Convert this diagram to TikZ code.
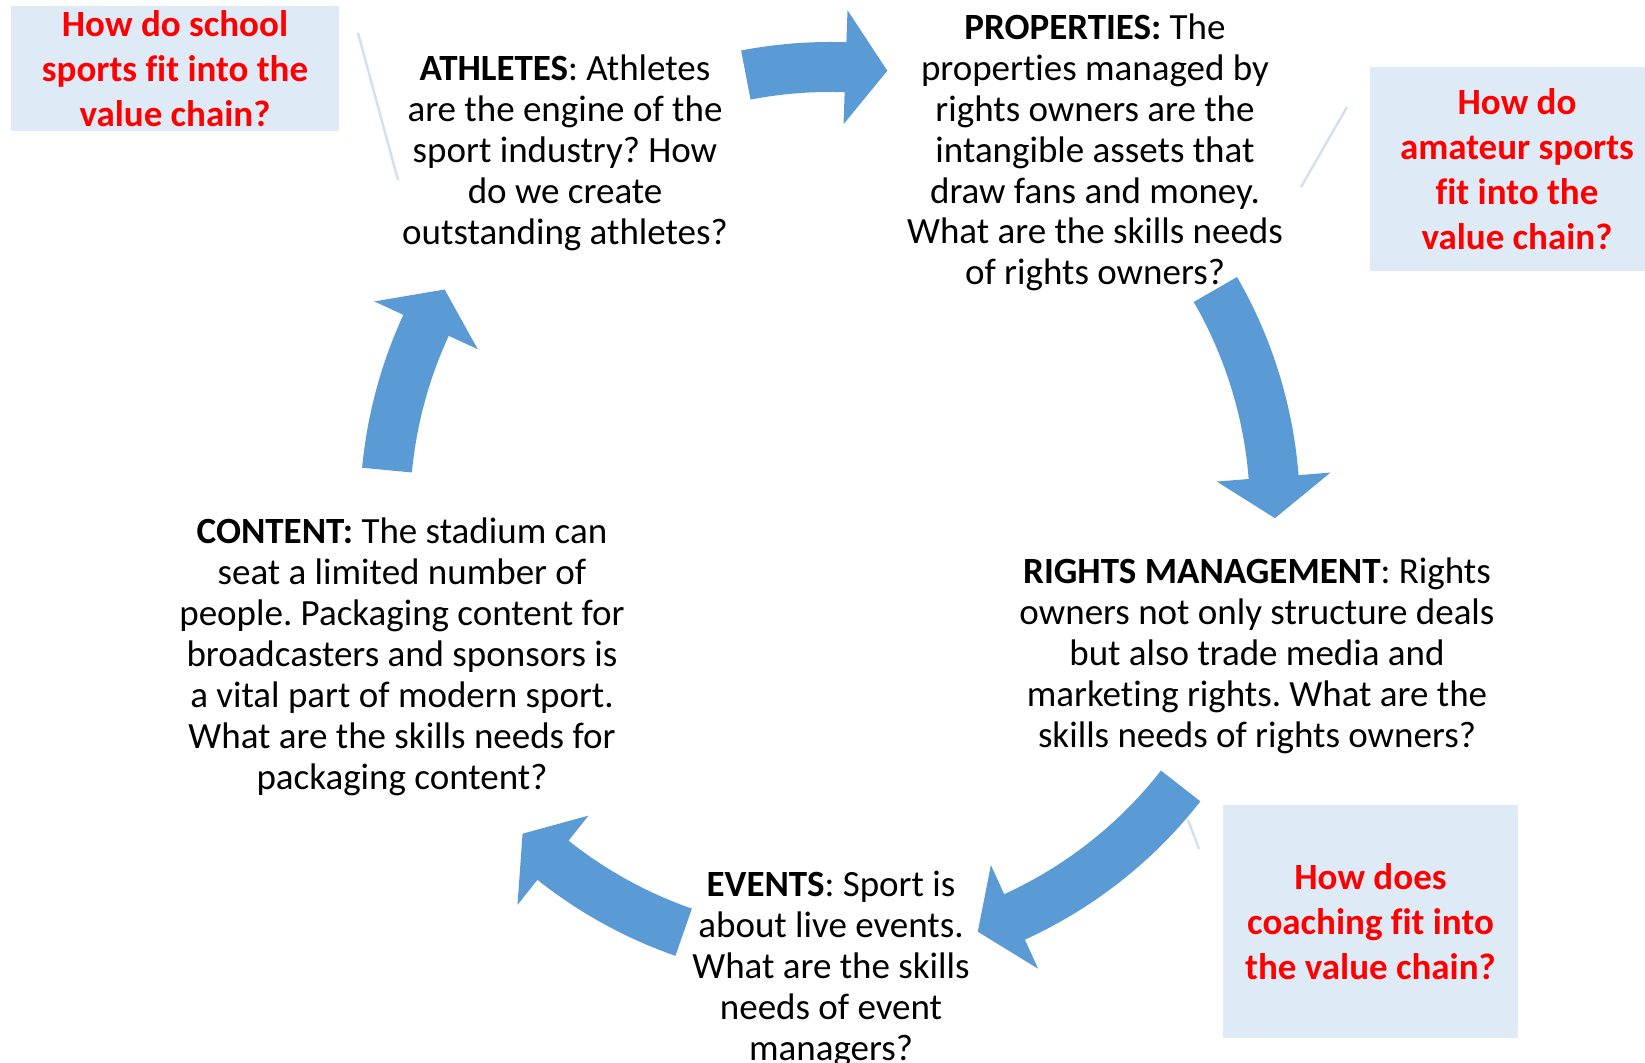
\documentclass[tikz,border=0pt]{standalone}
\usepackage{fontspec}
\setmainfont{Carlito}[Ligatures=NoCommon]
\frenchspacing

\definecolor{cycblue}{RGB}{91,155,213}
\definecolor{notefill}{RGB}{222,235,247}
\definecolor{noteline}{RGB}{208,224,241}

% curved block arrow on the cycle: tail angle, head base angle, tip angle
\newcommand{\cycarrow}[3]{%
  \fill[cycblue] (#1:470) arc[start angle=#1, end angle=#2, radius=470]
    -- (#2:502) -- (#3:445) -- (#2:388) -- (#2:420)
    arc[start angle=#2, end angle=#1, radius=420] -- cycle;}

\begin{document}
\begin{tikzpicture}[
  x=0.5pt, y=0.5pt,
  body/.style={align=center, inner sep=0pt, font=\fontsize{18.5}{20.45}\selectfont},
  note/.style={fill=notefill, align=center, inner sep=0pt, text=red,
               font=\bfseries\fontsize{18.5}{22.4}\selectfont},
  pointer/.style={draw=noteline, line width=1.2pt}
]
\useasboundingbox (-830,-551) rectangle (815,512);

% callout pointers
\coordinate (p1a) at (-472,479);
\coordinate (p1b) at (-432,332);
\coordinate (p2a) at (517,405);
\coordinate (p2b) at (471,325);
\coordinate (p3a) at (358,-308);
\coordinate (p3b) at (369,-337);
\draw[pointer] (p1a) -- (p1b);
\draw[pointer] (p2a) -- (p2b);
\draw[pointer] (p3a) -- (p3b);

% the cycle
\cycarrow{100.9}{88}{82.6}
\cycarrow{30}{4.5}{-0.8}
\cycarrow{-38}{-65.5}{-70.6}
\cycarrow{-109.2}{-128.5}{-133.7}
\cycarrow{174.6}{155.2}{150}

\node[body] (athletes) at (-265,359) {\textbf{ATHLETES}: Athletes\\are the engine of the\\sport industry? How\\do we create\\outstanding athletes?};
\node[body] (properties) at (265,359.5) {\textbf{PROPERTIES:} The\\properties managed by\\rights owners are the\\intangible assets that\\draw fans and money.\\What are the skills needs\\of rights owners?};
\node[body] (rights) at (427,-144) {\textbf{RIGHTS MANAGEMENT}: Rights\\owners not only structure deals\\but also trade media and\\marketing rights. What are the\\skills needs of rights owners?};
\node[body] (events) at (1,-457) {\textbf{EVENTS}: Sport is\\about live events.\\What are the skills\\needs of event\\managers?};
\node[body] (content) at (-428,-145) {\textbf{CONTENT:} The stadium can\\seat a limited number of\\people. Packaging content for\\broadcasters and sponsors is\\a vital part of modern sport.\\What are the skills needs for\\packaging content?};

% questions
\node[note, minimum width=164pt, minimum height=62.5pt] (school) at (-655,443.5) {How do school\\sports fit into the\\value chain?};
\node[note, minimum width=147.5pt, minimum height=102pt] (amateur) at (687,343) {How do\\amateur sports\\fit into the\\value chain?};
\node[note, minimum width=147.5pt, minimum height=116.5pt] (coaching) at (540.5,-409.5) {How does\\coaching fit into\\the value chain?};
\end{tikzpicture}
\end{document}
